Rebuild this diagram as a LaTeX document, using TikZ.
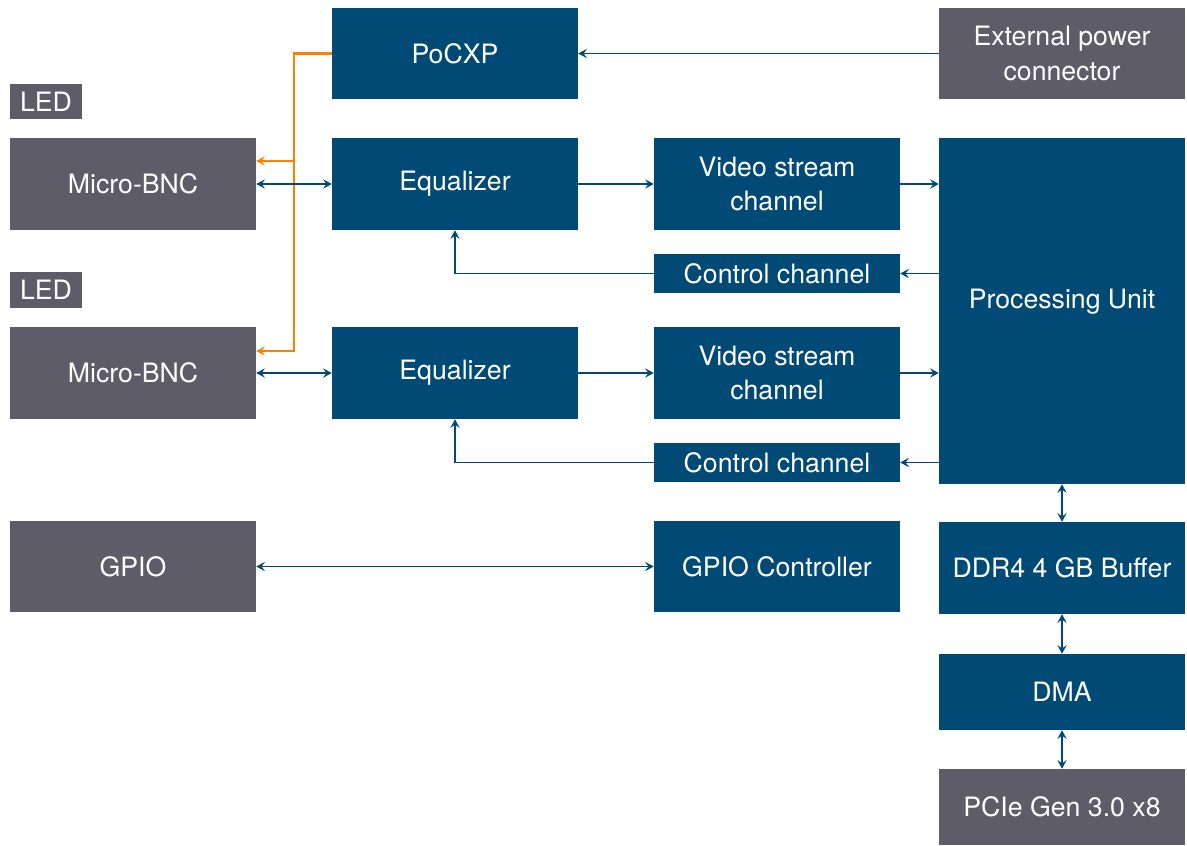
\documentclass[tikz,border=0pt]{standalone}
\usepackage{fontspec}
\setmainfont{TeX Gyre Heros}
\usetikzlibrary{arrows.meta}
\definecolor{boxblue}{RGB}{0,74,117}
\definecolor{boxgray}{RGB}{94,92,105}
\definecolor{lineorange}{RGB}{255,128,0}
\tikzset{
  wh/.style 2 args={minimum width=#1*0.75pt, minimum height=#2*0.75pt},
  basebox/.style={rectangle, inner sep=0pt, text=white, align=center,
    font=\fontsize{20}{26}\selectfont},
  bluebox/.style={basebox, fill=boxblue},
  graybox/.style={basebox, fill=boxgray},
  conn/.style={draw=boxblue, line width=1.4pt},
  tipa/.style={-{Stealth[length=6.5pt,width=7pt,inset=2.5pt]}},
  tipb/.style={{Stealth[length=6.5pt,width=7pt,inset=2.5pt]}-{Stealth[length=6.5pt,width=7pt,inset=2.5pt]}},
  orangeconn/.style={draw=lineorange, line width=1.6pt}
}
\begin{document}
\begin{tikzpicture}[x=0.75pt,y=-0.75pt]
\useasboundingbox (0,0) rectangle (1187,845);
% nodes
\node[bluebox, wh={246}{91}] (pocxp) at (455,53.5) {PoCXP};
\node[graybox, wh={246}{91}] (ext) at (1062,53.5) {External power\\connector};
\node[graybox, wh={72}{35}] (led1) at (46,101.5) {LED};
\node[graybox, wh={246}{92}] (mbnc1) at (133,184) {Micro-BNC};
\node[bluebox, wh={246}{92}] (eq1) at (455,184) {Equalizer};
\node[bluebox, wh={246}{92}] (vid1) at (777,184) {Video stream\\channel};
\node[bluebox, wh={246}{39}] (ctrl1) at (777,273.5) {Control channel};
\node[bluebox, wh={246}{346}] (pu) at (1062,311) {\raisebox{18pt}{Processing Unit}};
\node[graybox, wh={72}{36}] (led2) at (46,290) {LED};
\node[graybox, wh={246}{92}] (mbnc2) at (133,373) {Micro-BNC};
\node[bluebox, wh={246}{92}] (eq2) at (455,373) {Equalizer};
\node[bluebox, wh={246}{92}] (vid2) at (777,373) {Video stream\\channel};
\node[bluebox, wh={246}{39}] (ctrl2) at (777,462.5) {Control channel};
\node[graybox, wh={246}{91}] (gpio) at (133,566.5) {GPIO};
\node[bluebox, wh={246}{91}] (gpioc) at (777,566.5) {GPIO Controller};
\node[bluebox, wh={246}{92}] (ddr) at (1062,568) {DDR4 4 GB Buffer};
\node[bluebox, wh={246}{76}] (dma) at (1062,692) {DMA};
\node[graybox, wh={246}{76}] (pcie) at (1062,807) {PCIe Gen 3.0 x8};
% coordinates
\coordinate (oj2) at (294,351);
\coordinate (oj1) at (294,161);
% connectors
\draw[conn,tipa] (ext.west) -- (pocxp.east);
\draw[orangeconn,tipa] (pocxp.west) -| (oj2) -- (mbnc2.east |- oj2);
\draw[orangeconn,tipa] (oj1) -- (mbnc1.east |- oj1);
\draw[conn,tipb] (mbnc1.east) -- (eq1.west);
\draw[conn,tipa] (eq1.east) -- (vid1.west);
\draw[conn,tipa] (vid1.east) -- (vid1.east -| pu.west);
\draw[conn,tipa] (ctrl1.east -| pu.west) -- (ctrl1.east);
\draw[conn,tipa] (ctrl1.west) -| (eq1.south);
\draw[conn,tipb] (mbnc2.east) -- (eq2.west);
\draw[conn,tipa] (eq2.east) -- (vid2.west);
\draw[conn,tipa] (vid2.east) -- (vid2.east -| pu.west);
\draw[conn,tipa] (ctrl2.east -| pu.west) -- (ctrl2.east);
\draw[conn,tipa] (ctrl2.west) -| (eq2.south);
\draw[conn,tipb] (gpio.east) -- (gpioc.west);
\draw[conn,tipb] (pu.south) -- (ddr.north);
\draw[conn,tipb] (ddr.south) -- (dma.north);
\draw[conn,tipb] (dma.south) -- (pcie.north);
\end{tikzpicture}
\end{document}
